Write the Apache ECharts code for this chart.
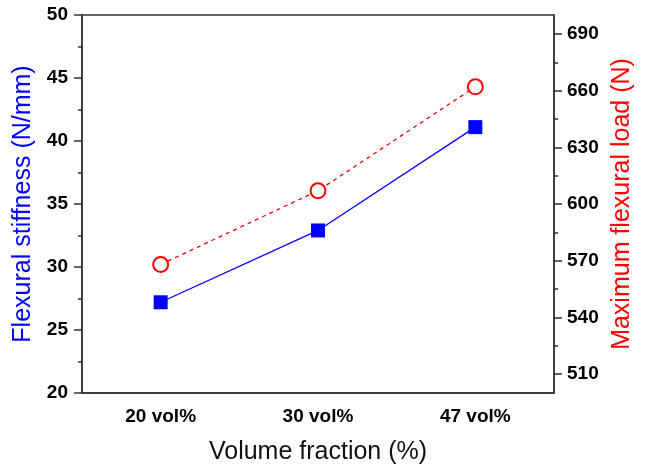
<!DOCTYPE html>
<html lang="en">
<head>
    <meta charset="UTF-8">
    <title>Flexural stiffness / load</title>
    <style>
        html, body { margin: 0; padding: 0; background: #fff; }
        #main { width: 648px; height: 470px; }
    </style>
</head>
<body>
    <div id="main"></div>
    <script src="https://cdn.jsdelivr.net/npm/echarts@6/dist/echarts.min.js"></script>
    <script>
        // data
        var categories = ['20 vol%', '30 vol%', '47 vol%'];
        var stiffness = [27.2, 32.9, 41.1];     // N/mm, left axis
        var maxLoad = [568, 607, 662];          // N, right axis
        var loadTicks = [510, 540, 570, 600, 630, 660, 690];
        var loadMinorTicks = [525, 555, 585, 615, 645, 675];

        var font = 'Liberation Sans, Arial, sans-serif';
        var axisColor = '#333';

        var chart = echarts.init(document.getElementById('main'));

        var option = {
            animation: false,
            grid: {
                left: 82, right: 94, top: 15, bottom: 76,
                show: true,
                borderColor: axisColor,
                borderWidth: 1.5
            },
            xAxis: [{
                type: 'category',
                data: categories,
                name: 'Volume fraction (%)',
                nameLocation: 'middle',
                nameGap: 47,
                nameTextStyle: { fontFamily: font, fontSize: 25, color: '#111' },
                axisLine: { lineStyle: { color: axisColor, width: 1.5 } },
                axisTick: { alignWithLabel: true, length: 8, interval: 0, lineStyle: { color: axisColor, width: 1.5 } },
                axisLabel: { margin: 14, fontFamily: font, fontWeight: 'bold', fontSize: 19, color: '#000', interval: 0 }
            }, {
                // boundary (minor) ticks
                type: 'category',
                data: categories,
                position: 'bottom',
                axisLine: { show: false },
                axisTick: { length: 4, interval: 0, lineStyle: { color: axisColor, width: 1.5 } },
                axisLabel: { show: false }
            }],
            yAxis: [{
                type: 'value',
                position: 'left',
                min: 20,
                max: 50,
                interval: 5,
                name: 'Flexural stiffness (N/mm)',
                nameLocation: 'middle',
                nameRotate: 90,
                nameGap: 44,
                nameTextStyle: { fontFamily: font, fontSize: 25, color: '#0000ff' },
                axisLine: { show: true, lineStyle: { color: axisColor, width: 1.5 } },
                axisTick: { show: true, length: 8, lineStyle: { color: axisColor, width: 1.5 } },
                minorTick: { show: true, splitNumber: 2, length: 4, lineStyle: { color: axisColor, width: 1.5 } },
                splitLine: { show: false },
                axisLabel: { margin: 14, fontFamily: font, fontWeight: 'bold', fontSize: 19, color: '#000' }
            }, {
                type: 'value',
                position: 'right',
                min: 500,
                max: 700,
                name: 'Maximum flexural load (N)',
                nameLocation: 'middle',
                nameRotate: 90,
                nameGap: 50,
                nameTextStyle: { fontFamily: font, fontSize: 25, color: '#ff0000' },
                axisLine: { show: true, lineStyle: { color: axisColor, width: 1.5 } },
                axisTick: { show: true, length: 8, customValues: loadTicks, lineStyle: { color: axisColor, width: 1.5 } },
                splitLine: { show: false },
                axisLabel: { margin: 13, customValues: loadTicks, fontFamily: font, fontWeight: 'bold', fontSize: 19, color: '#000' }
            }, {
                // minor ticks for the right axis
                type: 'value',
                position: 'right',
                min: 500,
                max: 700,
                axisLine: { show: false },
                axisTick: { show: true, length: 4, customValues: loadMinorTicks, lineStyle: { color: axisColor, width: 1.5 } },
                splitLine: { show: false },
                axisLabel: { show: false, customValues: loadMinorTicks }
            }],
            series: [{
                name: 'Flexural stiffness',
                type: 'line',
                xAxisIndex: 0,
                yAxisIndex: 0,
                data: stiffness,
                symbol: 'rect',
                symbolSize: 14,
                itemStyle: { color: '#0000ff' },
                lineStyle: { color: '#0000ff', width: 1.3 }
            }, {
                name: 'Maximum flexural load',
                type: 'line',
                xAxisIndex: 0,
                yAxisIndex: 1,
                data: maxLoad,
                symbol: 'emptyCircle',
                symbolSize: 15,
                itemStyle: { color: '#ff0000', borderColor: '#ff0000', borderWidth: 1.3 },
                lineStyle: { color: '#ff0000', width: 1.3, type: [4, 4] }
            }]
        };

        chart.setOption(option);
    </script>
</body>
</html>
